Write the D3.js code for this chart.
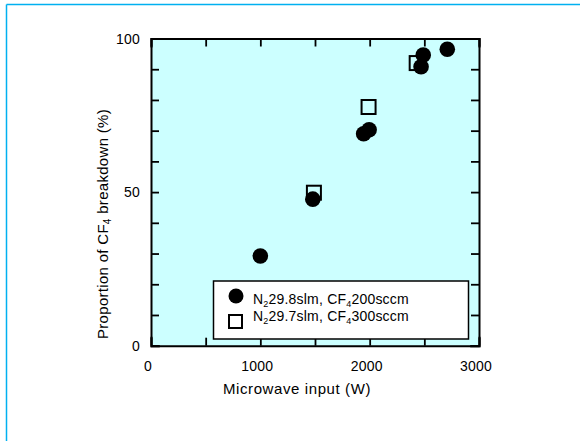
<!DOCTYPE html>
<html>
<head>
<meta charset="utf-8">
<script src="https://cdn.jsdelivr.net/npm/d3@7/dist/d3.min.js"></script>
<style>
  html, body { margin: 0; padding: 0; background: #fff; }
  text { font-family: "Liberation Sans", Arial, sans-serif; fill: #000; }
</style>
</head>
<body>
<svg id="chart" width="580" height="441"></svg>
<script>
// Data
const series1Power = [1000, 1480, 1945, 1995, 2470, 2490, 2710];   // N2 29.8 slm, CF4 200 sccm (filled circles)
const series1Value = [29.2, 47.7, 69.0, 70.3, 90.8, 94.6, 96.5];
const series2Power = [1490, 1990, 2430];                           // N2 29.7 slm, CF4 300 sccm (open squares)
const series2Value = [49.8, 77.7, 92.0];
const xTickLabels = [0, 1000, 2000, 3000];
const yTickLabels = [0, 50, 100];

(function () {
const svg = d3.select("#chart");

// frame lines (left and top only)
svg.append("line").attr("x1", 6.5).attr("y1", 4.5).attr("x2", 580).attr("y2", 4.5)
  .attr("stroke", "#00b0f0").attr("stroke-width", 1.5);
svg.append("line").attr("x1", 6.5).attr("y1", 4.5).attr("x2", 6.5).attr("y2", 441)
  .attr("stroke", "#00b0f0").attr("stroke-width", 1.5);

const pL = 151, pR = 479, pT = 38.5, pB = 345.7;
const x = d3.scaleLinear().domain([0, 3000]).range([pL, pR]);
const y = d3.scaleLinear().domain([0, 100]).range([pB, pT]);

// plot background
svg.append("rect").attr("x", pL).attr("y", pT).attr("width", pR - pL).attr("height", pB - pT)
  .attr("fill", "#ccffff");

const tickLen = 8;
const xTicks = d3.range(0, 3001, 500);
const yTicks = d3.range(0, 101, 10);

// axes with inward ticks
const axB = d3.axisBottom(x).tickValues(xTicks).tickSize(-tickLen).tickFormat("");
const axT = d3.axisTop(x).tickValues(xTicks).tickSize(-tickLen).tickFormat("");
const axL = d3.axisLeft(y).tickValues(yTicks).tickSize(-tickLen).tickFormat("");
const axR = d3.axisRight(y).tickValues(yTicks).tickSize(-tickLen).tickFormat("");
function styleAxis(g) {
  g.selectAll("path").attr("stroke", "#000").attr("stroke-width", 2);
  g.selectAll("line").attr("stroke", "#000").attr("stroke-width", 1.8);
}
svg.append("g").attr("transform", `translate(0,${pB})`).call(axB).call(styleAxis);
svg.append("g").attr("transform", `translate(0,${pT})`).call(axT).call(styleAxis);
svg.append("g").attr("transform", `translate(${pL},0)`).call(axL).call(styleAxis);
svg.append("g").attr("transform", `translate(${pR},0)`).call(axR).call(styleAxis);
svg.selectAll(".domain").attr("stroke-linecap", "square");

// tick labels
svg.append("g").selectAll("text").data(xTickLabels).join("text")
  .attr("x", d => x(d) - 3).attr("y", 371)
  .attr("text-anchor", "middle").attr("font-size", 14).attr("letter-spacing", 0.2)
  .text(d => d);
svg.append("g").selectAll("text").data(yTickLabels).join("text")
  .attr("x", 140).attr("y", d => y(d) + 5)
  .attr("text-anchor", "end").attr("font-size", 14).attr("letter-spacing", 0.2)
  .text(d => d);

// axis titles
svg.append("text").attr("x", 297).attr("y", 394).attr("text-anchor", "middle")
  .attr("font-size", 15).attr("letter-spacing", 0.6).text("Microwave input (W)");

const yt = svg.append("text").attr("transform", "translate(108,224) rotate(-90)")
  .attr("text-anchor", "middle").attr("font-size", 15).attr("letter-spacing", 0.3);
yt.append("tspan").text("Proportion of CF");
yt.append("tspan").attr("font-size", 10).attr("dy", 3).text("4");
yt.append("tspan").attr("dy", -3).text(" breakdown (%)");

// data marks
const pts1 = series1Power.map((p, i) => ({p, v: series1Value[i]}));
const pts2 = series2Power.map((p, i) => ({p, v: series2Value[i]}));
const sq = 14;
svg.append("g").selectAll("rect").data(pts2).join("rect")
  .attr("x", d => x(d.p) - sq / 2).attr("y", d => y(d.v) - sq / 2)
  .attr("width", sq).attr("height", sq)
  .attr("fill", "none").attr("stroke", "#000").attr("stroke-width", 2);
svg.append("g").selectAll("circle").data(pts1).join("circle")
  .attr("cx", d => x(d.p)).attr("cy", d => y(d.v)).attr("r", 7.8)
  .attr("fill", "#000");

// legend
const lg = svg.append("g");
lg.append("rect").attr("x", 213.5).attr("y", 281).attr("width", 255).attr("height", 58)
  .attr("fill", "#fff").attr("stroke", "#000").attr("stroke-width", 1.5);
lg.append("circle").attr("cx", 236).attr("cy", 296).attr("r", 7.5).attr("fill", "#000");
lg.append("rect").attr("x", 229).attr("y", 315).attr("width", 13).attr("height", 13)
  .attr("fill", "none").attr("stroke", "#000").attr("stroke-width", 2);

function legendText(yb, a, b) {
  const t = lg.append("text").attr("x", 253).attr("y", yb).attr("font-size", 14).attr("letter-spacing", 0.2);
  t.append("tspan").text("N");
  t.append("tspan").attr("font-size", 9).attr("dy", 3).text("2");
  t.append("tspan").attr("dy", -3).text(a);
  t.append("tspan").attr("font-size", 9).attr("dy", 3).text("4");
  t.append("tspan").attr("dy", -3).text(b);
}
legendText(304, "29.8slm, CF", "200sccm");
legendText(321, "29.7slm, CF", "300sccm");
})();
</script>
</body>
</html>
